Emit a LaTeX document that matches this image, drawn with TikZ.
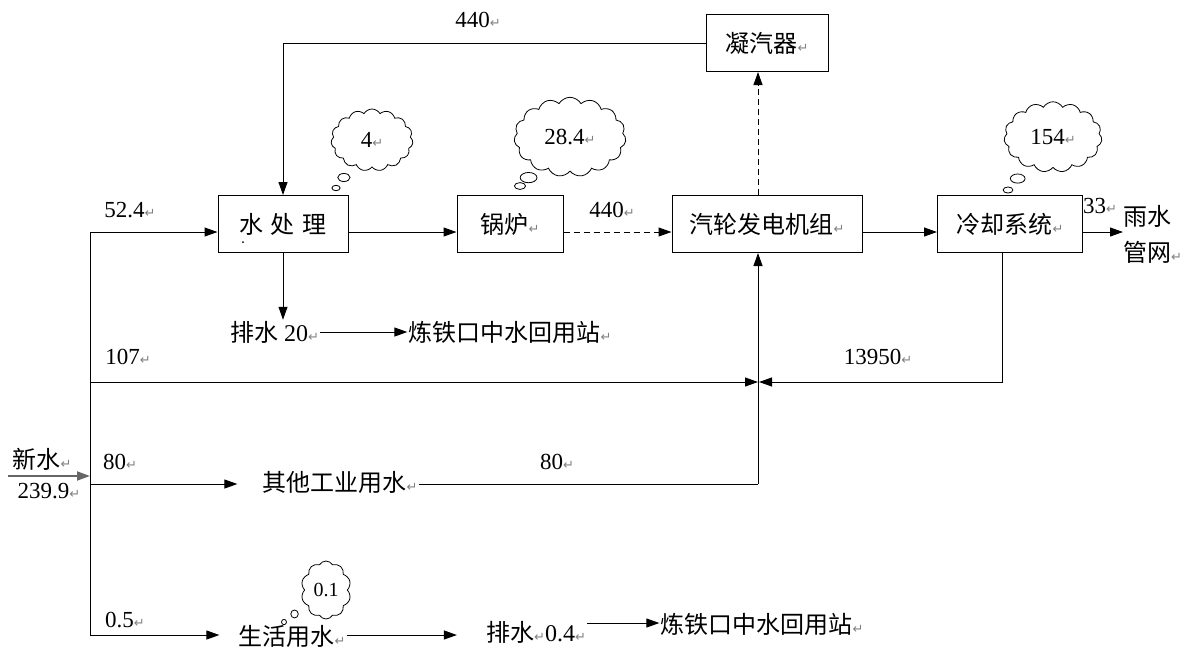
\documentclass[tikz,border=0pt]{standalone}
\usepackage{fontspec}
\setmainfont{Liberation Serif}
\newfontfamily\cjk{Noto Sans CJK SC}
\newfontfamily\symf{DejaVu Sans}
\usetikzlibrary{arrows.meta,shapes.symbols,shapes.callouts}
\newcommand{\rmk}{{\symf\fontsize{13}{13}\selectfont\color{gray}↵}}
\tikzset{
  box/.style={draw, line width=1pt, minimum height=57pt, inner sep=0pt, font=\cjk\fontsize{24}{26}\selectfont},
  lbl/.style={inner sep=1pt, font=\fontsize{23}{26}\selectfont},
  ctext/.style={inner sep=1pt, font=\cjk\fontsize{24}{26}\selectfont},
  arr/.style={-{Triangle[length=13pt,width=9pt]}, line width=1pt},
  ln/.style={line width=1pt},
  dsh/.style={line width=1pt, dash pattern=on 6pt off 4pt},
  thought/.style={cloud callout, draw, line width=0.8pt, cloud puffs=15, cloud puff arc=120, inner sep=0pt, font=\fontsize{23}{26}\selectfont}
}
\begin{document}
\begin{tikzpicture}[x=1pt,y=-1pt]
\useasboundingbox (0,0) rectangle (1189,649);
% boxes
\node[box, minimum width=122pt] (cond) at (767,43) {凝汽器\rmk};
\node[box, minimum width=130pt] (wt) at (283,224) {水\hspace{8pt}处\hspace{8pt}理};
\node[box, minimum width=106pt] (boil) at (510,224) {锅炉\rmk};
\node[box, minimum width=190pt] (tur) at (767,224) {汽轮发电机组\rmk};
\node[box, minimum width=145pt] (cool) at (1010,224) {冷却系统\rmk};
\fill (243,242) circle (1pt);
% helper coordinates
\coordinate (ly) at (0,232);
\coordinate (vx) at (758,0);
\coordinate (cx) at (1002,0);
\coordinate (t1) at (90,232);
\coordinate (t2) at (90,382);
\coordinate (t3) at (90,484);
\coordinate (t4) at (90,635);
\coordinate (r2) at (0,623);
\coordinate (tin) at (90,476);
\coordinate (src) at (8,476);
\coordinate (jl) at (758,382);
\coordinate (jr) at (759,382);
\coordinate (jo) at (758,484);
\coordinate (cb) at (1002,382);
\coordinate (rain) at (1123,232);
% text nodes
\node[ctext] (drain1) at (275,332) {排水 {\rmfamily 20}\rmk};
\node[ctext] (reuse1) at (510,332) {炼铁口中水回用站\rmk};
\node[ctext] (oth) at (340,482) {其他工业用水\rmk};
\node[ctext] (dom) at (292,636) {生活用水\rmk};
\node[ctext] (drain2) at (536,632) {排水\rmk{\rmfamily 0.4}\rmk};
\node[ctext] (reuse2) at (762,624) {炼铁口中水回用站\rmk};
\node[ctext, anchor=west] (rainA) at (1122,216) {雨水};
\node[ctext, anchor=west] (rainB) at (1122,252) {管网\rmk};
\node[ctext] (xin) at (42,459) {新水\rmk};
% labels
\node[lbl] at (478,20) {440\rmk};
\node[lbl] at (130,210) {52.4\rmk};
\node[lbl] at (612,210) {440\rmk};
\node[lbl, anchor=west, inner sep=0pt] at (1083,206) {33\rmk};
\node[lbl] at (128,357) {107\rmk};
\node[lbl] at (878,357) {13950\rmk};
\node[lbl] at (49,491) {239.9\rmk};
\node[lbl] at (120,462) {80\rmk};
\node[lbl] at (557,462) {80\rmk};
\node[lbl] at (125,620) {0.5\rmk};
% clouds
\node[thought, minimum width=82pt, minimum height=62pt, callout absolute pointer={(336,188)}] (c1) at (372,140) {4\rmk};
\node[thought, minimum width=112pt, minimum height=64pt, callout absolute pointer={(520,186)}] (c2) at (570,137) {28.4\rmk};
\node[thought, minimum width=98pt, minimum height=64pt, callout absolute pointer={(1008,190)}] (c3) at (1053,137) {154\rmk};
\node[thought, cloud puffs=10, minimum width=50pt, minimum height=58pt, callout absolute pointer={(284,622)}, font=\fontsize{20}{22}\selectfont] (c4) at (326,590) {0.1};
% connectors
\draw[arr] (cond.west) -| (wt.north);
\draw[arr] (wt.east |- ly) -- (boil.west |- ly);
\draw[dsh, -{Triangle[length=13pt,width=9pt]}] (boil.east |- ly) -- (tur.west |- ly);
\draw[arr] (tur.east |- ly) -- (cool.west |- ly);
\draw[arr] (cool.east |- ly) -- (rain);
\draw[dsh, -{Triangle[length=13pt,width=9pt]}] (tur.north -| vx) -- (cond.south -| vx);
\draw[arr] (wt.south) -- (wt.south |- drain1.north);
\draw[arr] (drain1.east) -- (reuse1.west);
\draw[ln] (t1) -- (t4);
\draw[arr] (t1) -- (wt.west |- t1);
\draw[arr] (t2) -- (jl);
\draw[arr] (cool.south -| cx) -- (cb) -- (jr);
\draw[ln] (oth.east |- jo) -- (jo);
\draw[arr] (jo) -- (tur.south -| vx);
\draw[arr] ([xshift=0pt]t3) -- ([xshift=-24pt]oth.west |- t3);
\draw[arr] (t4) -- ([xshift=-18pt]dom.west |- t4);
\draw[arr] (dom.east |- t4) -- ([xshift=-28pt]drain2.west |- t4);
\draw[arr] (drain2.east |- r2) -- (reuse2.west |- r2);
\draw[-{Triangle[length=13pt,width=9pt]}, line width=2pt, gray!80!black] (src) -- (tin);
\end{tikzpicture}
\end{document}
